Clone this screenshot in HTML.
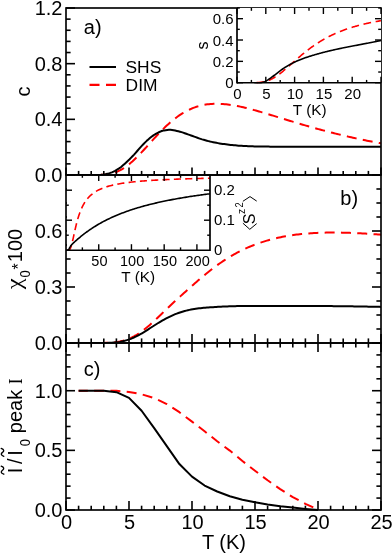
<!DOCTYPE html>
<html><head><meta charset="utf-8"><title>plot</title>
<style>html,body{margin:0;padding:0;background:#fff;}svg{display:block;will-change:transform;}</style>
</head><body>
<svg width="392" height="554" viewBox="0 0 392 554">
<rect width="392" height="554" fill="#fff"/>
<clipPath id="ca"><rect x="66.0" y="8.0" width="315.0" height="167.0"/></clipPath>
<clipPath id="cb"><rect x="66.0" y="175.0" width="315.0" height="168.0"/></clipPath>
<clipPath id="cc"><rect x="66.0" y="343.0" width="315.0" height="167.0"/></clipPath>
<g clip-path="url(#ca)">
<path d="M69.78,175.00 L71.34,175.00 L72.91,175.00 L74.47,175.00 L76.04,175.00 L77.60,175.00 L79.16,175.00 L80.73,175.00 L82.29,175.00 L83.86,175.00 L85.42,175.00 L86.98,175.00 L88.55,175.00 L90.11,175.00 L91.67,175.00 L93.24,174.99 L94.80,174.98 L96.37,174.97 L97.93,174.94 L99.49,174.90 L101.06,174.85 L102.62,174.76 L104.19,174.65 L105.75,174.49 L107.31,174.30 L108.88,174.05 L110.44,173.74 L112.01,173.37 L113.57,172.92 L115.13,172.41 L116.70,171.82 L118.26,171.14 L119.83,170.39 L121.39,169.55 L122.95,168.63 L124.52,167.63 L126.08,166.55 L127.65,165.39 L129.21,164.15 L130.77,162.85 L132.34,161.48 L133.90,160.04 L135.46,158.56 L137.03,157.02 L138.59,155.43 L140.16,153.81 L141.72,152.16 L143.28,150.47 L144.85,148.77 L146.41,147.05 L147.98,145.32 L149.54,143.59 L151.10,141.85 L152.67,140.13 L154.23,138.41 L155.80,136.71 L157.36,135.03 L158.92,133.38 L160.49,131.75 L162.05,130.16 L163.62,128.60 L165.18,127.07 L166.74,125.59 L168.31,124.15 L169.87,122.76 L171.43,121.41 L173.00,120.11 L174.56,118.87 L176.13,117.67 L177.69,116.52 L179.25,115.43 L180.82,114.38 L182.38,113.39 L183.95,112.46 L185.51,111.57 L187.07,110.74 L188.64,109.96 L190.20,109.23 L191.77,108.55 L193.33,107.93 L194.89,107.35 L196.46,106.82 L198.02,106.33 L199.59,105.90 L201.15,105.50 L202.71,105.16 L204.28,104.85 L205.84,104.59 L207.40,104.36 L208.97,104.18 L210.53,104.03 L212.10,103.91 L213.66,103.84 L215.22,103.79 L216.79,103.78 L218.35,103.80 L219.92,103.85 L221.48,103.93 L223.04,104.03 L224.61,104.16 L226.17,104.32 L227.74,104.50 L229.30,104.70 L230.86,104.92 L232.43,105.16 L233.99,105.42 L235.56,105.70 L237.12,106.00 L238.68,106.31 L240.25,106.64 L241.81,106.98 L243.38,107.34 L244.94,107.70 L246.50,108.08 L248.07,108.47 L249.63,108.87 L251.19,109.28 L252.76,109.70 L254.32,110.13 L255.89,110.56 L257.45,111.00 L259.01,111.45 L260.58,111.90 L262.14,112.35 L263.71,112.82 L265.27,113.28 L266.83,113.75 L268.40,114.22 L269.96,114.69 L271.53,115.17 L273.09,115.65 L274.65,116.13 L276.22,116.61 L277.78,117.09 L279.35,117.57 L280.91,118.05 L282.47,118.54 L284.04,119.02 L285.60,119.50 L287.16,119.98 L288.73,120.46 L290.29,120.94 L291.86,121.41 L293.42,121.89 L294.98,122.36 L296.55,122.83 L298.11,123.30 L299.68,123.76 L301.24,124.23 L302.80,124.69 L304.37,125.15 L305.93,125.60 L307.50,126.05 L309.06,126.50 L310.62,126.95 L312.19,127.39 L313.75,127.83 L315.32,128.27 L316.88,128.70 L318.44,129.13 L320.01,129.56 L321.57,129.98 L323.13,130.40 L324.70,130.82 L326.26,131.23 L327.83,131.64 L329.39,132.04 L330.95,132.44 L332.52,132.84 L334.08,133.24 L335.65,133.63 L337.21,134.01 L338.77,134.40 L340.34,134.77 L341.90,135.15 L343.47,135.52 L345.03,135.89 L346.59,136.25 L348.16,136.61 L349.72,136.97 L351.29,137.32 L352.85,137.67 L354.41,138.02 L355.98,138.36 L357.54,138.70 L359.11,139.04 L360.67,139.37 L362.23,139.70 L363.80,140.02 L365.36,140.34 L366.92,140.66 L368.49,140.97 L370.05,141.28 L371.62,141.59 L373.18,141.90 L374.74,142.20 L376.31,142.49 L377.87,142.79 L379.44,143.08 L381.00,143.37" fill="none" stroke="#ff0000" stroke-width="2.0" stroke-linejoin="round" stroke-dasharray="10.0 6.3" stroke-dashoffset="3.40" />
<path d="M66.00,175.00 L67.58,175.00 L69.17,175.00 L70.75,175.00 L72.33,175.00 L73.91,175.00 L75.50,175.00 L77.08,175.00 L78.66,175.00 L80.25,175.00 L81.83,175.00 L83.41,175.00 L84.99,175.00 L86.58,175.00 L88.16,175.00 L89.74,175.00 L91.33,175.00 L92.91,174.99 L94.49,174.98 L96.08,174.96 L97.66,174.94 L99.24,174.91 L100.82,174.85 L102.41,174.70 L103.99,174.45 L105.57,174.13 L107.16,173.76 L108.74,173.37 L110.32,172.91 L111.90,172.32 L113.49,171.60 L115.07,170.79 L116.65,169.91 L118.24,168.98 L119.82,167.92 L121.40,166.68 L122.98,165.32 L124.57,163.91 L126.15,162.48 L127.73,161.02 L129.32,159.49 L130.90,157.90 L132.48,156.27 L134.07,154.59 L135.65,152.82 L137.23,150.98 L138.81,149.14 L140.40,147.36 L141.98,145.67 L143.56,144.01 L145.15,142.39 L146.73,140.85 L148.31,139.41 L149.89,138.09 L151.48,136.81 L153.06,135.61 L154.64,134.52 L156.23,133.59 L157.81,132.77 L159.39,131.99 L160.97,131.30 L162.56,130.75 L164.14,130.39 L165.72,130.16 L167.31,129.97 L168.89,129.84 L170.47,129.80 L172.06,129.92 L173.64,130.18 L175.22,130.52 L176.80,130.91 L178.39,131.30 L179.97,131.70 L181.55,132.16 L183.14,132.67 L184.72,133.21 L186.30,133.78 L187.88,134.35 L189.47,134.91 L191.05,135.45 L192.63,136.01 L194.22,136.59 L195.80,137.18 L197.38,137.76 L198.96,138.33 L200.55,138.87 L202.13,139.37 L203.71,139.83 L205.30,140.28 L206.88,140.70 L208.46,141.11 L210.05,141.51 L211.63,141.87 L213.21,142.22 L214.79,142.54 L216.38,142.84 L217.96,143.12 L219.54,143.39 L221.13,143.65 L222.71,143.89 L224.29,144.11 L225.87,144.32 L227.46,144.52 L229.04,144.71 L230.62,144.89 L232.21,145.06 L233.79,145.22 L235.37,145.37 L236.95,145.50 L238.54,145.63 L240.12,145.73 L241.70,145.83 L243.29,145.92 L244.87,146.01 L246.45,146.09 L248.04,146.16 L249.62,146.22 L251.20,146.28 L252.78,146.33 L254.37,146.38 L255.95,146.43 L257.53,146.48 L259.12,146.52 L260.70,146.56 L262.28,146.58 L263.86,146.60 L265.45,146.61 L267.03,146.62 L268.61,146.62 L270.20,146.63 L271.78,146.64 L273.36,146.65 L274.94,146.65 L276.53,146.66 L278.11,146.66 L279.69,146.67 L281.28,146.67 L282.86,146.68 L284.44,146.68 L286.03,146.69 L287.61,146.69 L289.19,146.69 L290.77,146.69 L292.36,146.70 L293.94,146.70 L295.52,146.70 L297.11,146.70 L298.69,146.70 L300.27,146.70 L301.85,146.70 L303.44,146.70 L305.02,146.70 L306.60,146.70 L308.19,146.70 L309.77,146.70 L311.35,146.70 L312.93,146.70 L314.52,146.70 L316.10,146.70 L317.68,146.70 L319.27,146.70 L320.85,146.70 L322.43,146.70 L324.02,146.70 L325.60,146.70 L327.18,146.70 L328.76,146.70 L330.35,146.70 L331.93,146.70 L333.51,146.70 L335.10,146.70 L336.68,146.70 L338.26,146.70 L339.84,146.70 L341.43,146.70 L343.01,146.70 L344.59,146.70 L346.18,146.70 L347.76,146.70 L349.34,146.70 L350.92,146.70 L352.51,146.70 L354.09,146.70 L355.67,146.70 L357.26,146.70 L358.84,146.70 L360.42,146.70 L362.01,146.70 L363.59,146.70 L365.17,146.70 L366.75,146.70 L368.34,146.70 L369.92,146.70 L371.50,146.70 L373.09,146.70 L374.67,146.70 L376.25,146.70 L377.83,146.70 L379.42,146.70 L381.00,146.70" fill="none" stroke="#000" stroke-width="2.0" stroke-linejoin="round"  />
</g>
<g clip-path="url(#cb)">
<path d="M69.78,343.00 L71.34,343.00 L72.91,343.00 L74.47,343.00 L76.04,343.00 L77.60,343.00 L79.16,343.00 L80.73,343.00 L82.29,343.00 L83.86,343.00 L85.42,343.00 L86.98,343.00 L88.55,343.00 L90.11,343.00 L91.67,343.00 L93.24,343.00 L94.80,343.00 L96.37,342.99 L97.93,342.99 L99.49,342.98 L101.06,342.97 L102.62,342.95 L104.19,342.92 L105.75,342.87 L107.31,342.82 L108.88,342.74 L110.44,342.65 L112.01,342.53 L113.57,342.38 L115.13,342.20 L116.70,341.98 L118.26,341.73 L119.83,341.43 L121.39,341.08 L122.95,340.69 L124.52,340.24 L126.08,339.74 L127.65,339.19 L129.21,338.57 L130.77,337.90 L132.34,337.16 L133.90,336.36 L135.46,335.50 L137.03,334.57 L138.59,333.59 L140.16,332.54 L141.72,331.44 L143.28,330.28 L144.85,329.06 L146.41,327.80 L147.98,326.49 L149.54,325.13 L151.10,323.74 L152.67,322.32 L154.23,320.88 L155.80,319.41 L157.36,317.92 L158.92,316.43 L160.49,314.93 L162.05,313.42 L163.62,311.92 L165.18,310.42 L166.74,308.92 L168.31,307.44 L169.87,305.96 L171.43,304.50 L173.00,303.04 L174.56,301.59 L176.13,300.16 L177.69,298.72 L179.25,297.30 L180.82,295.88 L182.38,294.47 L183.95,293.06 L185.51,291.66 L187.07,290.26 L188.64,288.86 L190.20,287.47 L191.77,286.08 L193.33,284.69 L194.89,283.32 L196.46,281.95 L198.02,280.59 L199.59,279.25 L201.15,277.91 L202.71,276.59 L204.28,275.29 L205.84,274.00 L207.40,272.73 L208.97,271.47 L210.53,270.24 L212.10,269.03 L213.66,267.84 L215.22,266.67 L216.79,265.52 L218.35,264.39 L219.92,263.29 L221.48,262.21 L223.04,261.16 L224.61,260.13 L226.17,259.12 L227.74,258.14 L229.30,257.18 L230.86,256.24 L232.43,255.33 L233.99,254.44 L235.56,253.57 L237.12,252.72 L238.68,251.90 L240.25,251.10 L241.81,250.32 L243.38,249.57 L244.94,248.83 L246.50,248.12 L248.07,247.43 L249.63,246.76 L251.19,246.11 L252.76,245.47 L254.32,244.86 L255.89,244.27 L257.45,243.70 L259.01,243.14 L260.58,242.61 L262.14,242.09 L263.71,241.59 L265.27,241.10 L266.83,240.64 L268.40,240.19 L269.96,239.76 L271.53,239.34 L273.09,238.94 L274.65,238.55 L276.22,238.18 L277.78,237.83 L279.35,237.49 L280.91,237.16 L282.47,236.85 L284.04,236.55 L285.60,236.26 L287.16,235.99 L288.73,235.73 L290.29,235.48 L291.86,235.25 L293.42,235.02 L294.98,234.81 L296.55,234.61 L298.11,234.42 L299.68,234.24 L301.24,234.07 L302.80,233.91 L304.37,233.76 L305.93,233.63 L307.50,233.50 L309.06,233.38 L310.62,233.27 L312.19,233.16 L313.75,233.07 L315.32,232.99 L316.88,232.91 L318.44,232.84 L320.01,232.78 L321.57,232.73 L323.13,232.68 L324.70,232.64 L326.26,232.61 L327.83,232.58 L329.39,232.57 L330.95,232.55 L332.52,232.55 L334.08,232.55 L335.65,232.55 L337.21,232.57 L338.77,232.59 L340.34,232.61 L341.90,232.64 L343.47,232.67 L345.03,232.71 L346.59,232.75 L348.16,232.80 L349.72,232.86 L351.29,232.92 L352.85,232.98 L354.41,233.04 L355.98,233.12 L357.54,233.19 L359.11,233.27 L360.67,233.35 L362.23,233.44 L363.80,233.53 L365.36,233.62 L366.92,233.72 L368.49,233.82 L370.05,233.92 L371.62,234.03 L373.18,234.14 L374.74,234.25 L376.31,234.37 L377.87,234.48 L379.44,234.60 L381.00,234.73" fill="none" stroke="#ff0000" stroke-width="2.0" stroke-linejoin="round" stroke-dasharray="10.0 6.3" stroke-dashoffset="4.33" />
<path d="M66.00,343.00 L67.58,343.00 L69.17,343.00 L70.75,343.00 L72.33,343.00 L73.91,343.00 L75.50,343.00 L77.08,343.00 L78.66,343.00 L80.25,343.00 L81.83,343.00 L83.41,343.00 L84.99,343.00 L86.58,343.00 L88.16,343.00 L89.74,343.00 L91.33,343.00 L92.91,343.00 L94.49,343.00 L96.08,343.00 L97.66,343.00 L99.24,343.00 L100.82,343.00 L102.41,342.99 L103.99,342.96 L105.57,342.92 L107.16,342.88 L108.74,342.82 L110.32,342.76 L111.90,342.68 L113.49,342.60 L115.07,342.51 L116.65,342.39 L118.24,342.19 L119.82,341.92 L121.40,341.59 L122.98,341.21 L124.57,340.80 L126.15,340.35 L127.73,339.89 L129.32,339.41 L130.90,338.85 L132.48,338.20 L134.07,337.47 L135.65,336.69 L137.23,335.86 L138.81,335.01 L140.40,334.14 L141.98,333.27 L143.56,332.37 L145.15,331.40 L146.73,330.39 L148.31,329.34 L149.89,328.29 L151.48,327.25 L153.06,326.24 L154.64,325.25 L156.23,324.26 L157.81,323.27 L159.39,322.29 L160.97,321.33 L162.56,320.40 L164.14,319.51 L165.72,318.67 L167.31,317.86 L168.89,317.05 L170.47,316.28 L172.06,315.54 L173.64,314.84 L175.22,314.19 L176.80,313.59 L178.39,313.02 L179.97,312.48 L181.55,311.96 L183.14,311.47 L184.72,311.02 L186.30,310.60 L187.88,310.22 L189.47,309.88 L191.05,309.58 L192.63,309.29 L194.22,309.02 L195.80,308.78 L197.38,308.56 L198.96,308.35 L200.55,308.17 L202.13,308.01 L203.71,307.86 L205.30,307.72 L206.88,307.59 L208.46,307.48 L210.05,307.36 L211.63,307.26 L213.21,307.15 L214.79,307.05 L216.38,306.95 L217.96,306.86 L219.54,306.77 L221.13,306.68 L222.71,306.60 L224.29,306.52 L225.87,306.45 L227.46,306.38 L229.04,306.33 L230.62,306.28 L232.21,306.24 L233.79,306.19 L235.37,306.15 L236.95,306.10 L238.54,306.06 L240.12,306.02 L241.70,305.99 L243.29,305.96 L244.87,305.94 L246.45,305.92 L248.04,305.91 L249.62,305.90 L251.20,305.90 L252.78,305.90 L254.37,305.90 L255.95,305.90 L257.53,305.90 L259.12,305.90 L260.70,305.90 L262.28,305.90 L263.86,305.90 L265.45,305.90 L267.03,305.90 L268.61,305.90 L270.20,305.90 L271.78,305.90 L273.36,305.90 L274.94,305.90 L276.53,305.90 L278.11,305.90 L279.69,305.90 L281.28,305.90 L282.86,305.90 L284.44,305.90 L286.03,305.90 L287.61,305.90 L289.19,305.90 L290.77,305.90 L292.36,305.90 L293.94,305.90 L295.52,305.90 L297.11,305.90 L298.69,305.90 L300.27,305.90 L301.85,305.90 L303.44,305.90 L305.02,305.91 L306.60,305.91 L308.19,305.92 L309.77,305.93 L311.35,305.94 L312.93,305.95 L314.52,305.96 L316.10,305.97 L317.68,305.99 L319.27,306.00 L320.85,306.02 L322.43,306.03 L324.02,306.04 L325.60,306.06 L327.18,306.07 L328.76,306.09 L330.35,306.10 L331.93,306.12 L333.51,306.13 L335.10,306.15 L336.68,306.17 L338.26,306.18 L339.84,306.20 L341.43,306.22 L343.01,306.24 L344.59,306.26 L346.18,306.28 L347.76,306.31 L349.34,306.33 L350.92,306.35 L352.51,306.37 L354.09,306.40 L355.67,306.42 L357.26,306.45 L358.84,306.48 L360.42,306.50 L362.01,306.53 L363.59,306.56 L365.17,306.59 L366.75,306.62 L368.34,306.65 L369.92,306.68 L371.50,306.71 L373.09,306.74 L374.67,306.77 L376.25,306.80 L377.83,306.83 L379.42,306.87 L381.00,306.90" fill="none" stroke="#000" stroke-width="2.0" stroke-linejoin="round"  />
</g>
<g>
<path d="M78.60,390.71 L91.20,390.71 L103.80,390.71 L116.40,390.83 L129.00,391.91 L141.60,394.29 L154.20,398.11 L166.80,404.07 L179.40,412.19 L192.00,421.61 L204.60,431.27 L217.20,441.29 L229.80,450.60 L242.40,460.97 L255.00,470.75 L267.60,480.30 L280.20,489.12 L292.80,497.12 L305.40,503.80 L315.48,508.33" fill="none" stroke="#ff0000" stroke-width="2.0" stroke-linejoin="round" stroke-dasharray="10.0 6.3" stroke-dashoffset="0.78" />
<path d="M78.60,390.71 L91.20,390.71 L103.80,390.71 L116.40,392.15 L129.00,397.87 L141.60,410.75 L154.20,428.17 L166.80,446.18 L179.40,464.07 L192.00,476.60 L204.60,485.55 L217.20,491.51 L229.80,496.28 L242.40,499.74 L255.00,502.25 L267.60,504.39 L280.20,506.18 L292.80,507.61 L305.40,508.93 L318.00,510.00" fill="none" stroke="#000" stroke-width="2.0" stroke-linejoin="round"  />
</g>
<line x1="66.00" y1="175.00" x2="66.00" y2="167.50" stroke="#000" stroke-width="1.6" />
<line x1="78.60" y1="175.00" x2="78.60" y2="170.90" stroke="#000" stroke-width="1.6" />
<line x1="91.20" y1="175.00" x2="91.20" y2="170.90" stroke="#000" stroke-width="1.6" />
<line x1="103.80" y1="175.00" x2="103.80" y2="170.90" stroke="#000" stroke-width="1.6" />
<line x1="116.40" y1="175.00" x2="116.40" y2="170.90" stroke="#000" stroke-width="1.6" />
<line x1="129.00" y1="175.00" x2="129.00" y2="167.50" stroke="#000" stroke-width="1.6" />
<line x1="141.60" y1="175.00" x2="141.60" y2="170.90" stroke="#000" stroke-width="1.6" />
<line x1="154.20" y1="175.00" x2="154.20" y2="170.90" stroke="#000" stroke-width="1.6" />
<line x1="166.80" y1="175.00" x2="166.80" y2="170.90" stroke="#000" stroke-width="1.6" />
<line x1="179.40" y1="175.00" x2="179.40" y2="170.90" stroke="#000" stroke-width="1.6" />
<line x1="192.00" y1="175.00" x2="192.00" y2="167.50" stroke="#000" stroke-width="1.6" />
<line x1="204.60" y1="175.00" x2="204.60" y2="170.90" stroke="#000" stroke-width="1.6" />
<line x1="217.20" y1="175.00" x2="217.20" y2="170.90" stroke="#000" stroke-width="1.6" />
<line x1="229.80" y1="175.00" x2="229.80" y2="170.90" stroke="#000" stroke-width="1.6" />
<line x1="242.40" y1="175.00" x2="242.40" y2="170.90" stroke="#000" stroke-width="1.6" />
<line x1="255.00" y1="175.00" x2="255.00" y2="167.50" stroke="#000" stroke-width="1.6" />
<line x1="267.60" y1="175.00" x2="267.60" y2="170.90" stroke="#000" stroke-width="1.6" />
<line x1="280.20" y1="175.00" x2="280.20" y2="170.90" stroke="#000" stroke-width="1.6" />
<line x1="292.80" y1="175.00" x2="292.80" y2="170.90" stroke="#000" stroke-width="1.6" />
<line x1="305.40" y1="175.00" x2="305.40" y2="170.90" stroke="#000" stroke-width="1.6" />
<line x1="318.00" y1="175.00" x2="318.00" y2="167.50" stroke="#000" stroke-width="1.6" />
<line x1="330.60" y1="175.00" x2="330.60" y2="170.90" stroke="#000" stroke-width="1.6" />
<line x1="343.20" y1="175.00" x2="343.20" y2="170.90" stroke="#000" stroke-width="1.6" />
<line x1="355.80" y1="175.00" x2="355.80" y2="170.90" stroke="#000" stroke-width="1.6" />
<line x1="368.40" y1="175.00" x2="368.40" y2="170.90" stroke="#000" stroke-width="1.6" />
<line x1="381.00" y1="175.00" x2="381.00" y2="167.50" stroke="#000" stroke-width="1.6" />
<line x1="66.00" y1="343.00" x2="66.00" y2="334.00" stroke="#000" stroke-width="1.6" />
<line x1="78.60" y1="343.00" x2="78.60" y2="338.40" stroke="#000" stroke-width="1.6" />
<line x1="91.20" y1="343.00" x2="91.20" y2="338.40" stroke="#000" stroke-width="1.6" />
<line x1="103.80" y1="343.00" x2="103.80" y2="338.40" stroke="#000" stroke-width="1.6" />
<line x1="116.40" y1="343.00" x2="116.40" y2="338.40" stroke="#000" stroke-width="1.6" />
<line x1="129.00" y1="343.00" x2="129.00" y2="334.00" stroke="#000" stroke-width="1.6" />
<line x1="141.60" y1="343.00" x2="141.60" y2="338.40" stroke="#000" stroke-width="1.6" />
<line x1="154.20" y1="343.00" x2="154.20" y2="338.40" stroke="#000" stroke-width="1.6" />
<line x1="166.80" y1="343.00" x2="166.80" y2="338.40" stroke="#000" stroke-width="1.6" />
<line x1="179.40" y1="343.00" x2="179.40" y2="338.40" stroke="#000" stroke-width="1.6" />
<line x1="192.00" y1="343.00" x2="192.00" y2="334.00" stroke="#000" stroke-width="1.6" />
<line x1="204.60" y1="343.00" x2="204.60" y2="338.40" stroke="#000" stroke-width="1.6" />
<line x1="217.20" y1="343.00" x2="217.20" y2="338.40" stroke="#000" stroke-width="1.6" />
<line x1="229.80" y1="343.00" x2="229.80" y2="338.40" stroke="#000" stroke-width="1.6" />
<line x1="242.40" y1="343.00" x2="242.40" y2="338.40" stroke="#000" stroke-width="1.6" />
<line x1="255.00" y1="343.00" x2="255.00" y2="334.00" stroke="#000" stroke-width="1.6" />
<line x1="267.60" y1="343.00" x2="267.60" y2="338.40" stroke="#000" stroke-width="1.6" />
<line x1="280.20" y1="343.00" x2="280.20" y2="338.40" stroke="#000" stroke-width="1.6" />
<line x1="292.80" y1="343.00" x2="292.80" y2="338.40" stroke="#000" stroke-width="1.6" />
<line x1="305.40" y1="343.00" x2="305.40" y2="338.40" stroke="#000" stroke-width="1.6" />
<line x1="318.00" y1="343.00" x2="318.00" y2="334.00" stroke="#000" stroke-width="1.6" />
<line x1="330.60" y1="343.00" x2="330.60" y2="338.40" stroke="#000" stroke-width="1.6" />
<line x1="343.20" y1="343.00" x2="343.20" y2="338.40" stroke="#000" stroke-width="1.6" />
<line x1="355.80" y1="343.00" x2="355.80" y2="338.40" stroke="#000" stroke-width="1.6" />
<line x1="368.40" y1="343.00" x2="368.40" y2="338.40" stroke="#000" stroke-width="1.6" />
<line x1="381.00" y1="343.00" x2="381.00" y2="334.00" stroke="#000" stroke-width="1.6" />
<line x1="66.00" y1="343.00" x2="66.00" y2="352.00" stroke="#000" stroke-width="1.6" />
<line x1="78.60" y1="343.00" x2="78.60" y2="347.60" stroke="#000" stroke-width="1.6" />
<line x1="91.20" y1="343.00" x2="91.20" y2="347.60" stroke="#000" stroke-width="1.6" />
<line x1="103.80" y1="343.00" x2="103.80" y2="347.60" stroke="#000" stroke-width="1.6" />
<line x1="116.40" y1="343.00" x2="116.40" y2="347.60" stroke="#000" stroke-width="1.6" />
<line x1="129.00" y1="343.00" x2="129.00" y2="352.00" stroke="#000" stroke-width="1.6" />
<line x1="141.60" y1="343.00" x2="141.60" y2="347.60" stroke="#000" stroke-width="1.6" />
<line x1="154.20" y1="343.00" x2="154.20" y2="347.60" stroke="#000" stroke-width="1.6" />
<line x1="166.80" y1="343.00" x2="166.80" y2="347.60" stroke="#000" stroke-width="1.6" />
<line x1="179.40" y1="343.00" x2="179.40" y2="347.60" stroke="#000" stroke-width="1.6" />
<line x1="192.00" y1="343.00" x2="192.00" y2="352.00" stroke="#000" stroke-width="1.6" />
<line x1="204.60" y1="343.00" x2="204.60" y2="347.60" stroke="#000" stroke-width="1.6" />
<line x1="217.20" y1="343.00" x2="217.20" y2="347.60" stroke="#000" stroke-width="1.6" />
<line x1="229.80" y1="343.00" x2="229.80" y2="347.60" stroke="#000" stroke-width="1.6" />
<line x1="242.40" y1="343.00" x2="242.40" y2="347.60" stroke="#000" stroke-width="1.6" />
<line x1="255.00" y1="343.00" x2="255.00" y2="352.00" stroke="#000" stroke-width="1.6" />
<line x1="267.60" y1="343.00" x2="267.60" y2="347.60" stroke="#000" stroke-width="1.6" />
<line x1="280.20" y1="343.00" x2="280.20" y2="347.60" stroke="#000" stroke-width="1.6" />
<line x1="292.80" y1="343.00" x2="292.80" y2="347.60" stroke="#000" stroke-width="1.6" />
<line x1="305.40" y1="343.00" x2="305.40" y2="347.60" stroke="#000" stroke-width="1.6" />
<line x1="318.00" y1="343.00" x2="318.00" y2="352.00" stroke="#000" stroke-width="1.6" />
<line x1="330.60" y1="343.00" x2="330.60" y2="347.60" stroke="#000" stroke-width="1.6" />
<line x1="343.20" y1="343.00" x2="343.20" y2="347.60" stroke="#000" stroke-width="1.6" />
<line x1="355.80" y1="343.00" x2="355.80" y2="347.60" stroke="#000" stroke-width="1.6" />
<line x1="368.40" y1="343.00" x2="368.40" y2="347.60" stroke="#000" stroke-width="1.6" />
<line x1="381.00" y1="343.00" x2="381.00" y2="352.00" stroke="#000" stroke-width="1.6" />
<line x1="66.00" y1="510.00" x2="66.00" y2="501.00" stroke="#000" stroke-width="1.6" />
<line x1="78.60" y1="510.00" x2="78.60" y2="505.70" stroke="#000" stroke-width="1.6" />
<line x1="91.20" y1="510.00" x2="91.20" y2="505.70" stroke="#000" stroke-width="1.6" />
<line x1="103.80" y1="510.00" x2="103.80" y2="505.70" stroke="#000" stroke-width="1.6" />
<line x1="116.40" y1="510.00" x2="116.40" y2="505.70" stroke="#000" stroke-width="1.6" />
<line x1="129.00" y1="510.00" x2="129.00" y2="501.00" stroke="#000" stroke-width="1.6" />
<line x1="141.60" y1="510.00" x2="141.60" y2="505.70" stroke="#000" stroke-width="1.6" />
<line x1="154.20" y1="510.00" x2="154.20" y2="505.70" stroke="#000" stroke-width="1.6" />
<line x1="166.80" y1="510.00" x2="166.80" y2="505.70" stroke="#000" stroke-width="1.6" />
<line x1="179.40" y1="510.00" x2="179.40" y2="505.70" stroke="#000" stroke-width="1.6" />
<line x1="192.00" y1="510.00" x2="192.00" y2="501.00" stroke="#000" stroke-width="1.6" />
<line x1="204.60" y1="510.00" x2="204.60" y2="505.70" stroke="#000" stroke-width="1.6" />
<line x1="217.20" y1="510.00" x2="217.20" y2="505.70" stroke="#000" stroke-width="1.6" />
<line x1="229.80" y1="510.00" x2="229.80" y2="505.70" stroke="#000" stroke-width="1.6" />
<line x1="242.40" y1="510.00" x2="242.40" y2="505.70" stroke="#000" stroke-width="1.6" />
<line x1="255.00" y1="510.00" x2="255.00" y2="501.00" stroke="#000" stroke-width="1.6" />
<line x1="267.60" y1="510.00" x2="267.60" y2="505.70" stroke="#000" stroke-width="1.6" />
<line x1="280.20" y1="510.00" x2="280.20" y2="505.70" stroke="#000" stroke-width="1.6" />
<line x1="292.80" y1="510.00" x2="292.80" y2="505.70" stroke="#000" stroke-width="1.6" />
<line x1="305.40" y1="510.00" x2="305.40" y2="505.70" stroke="#000" stroke-width="1.6" />
<line x1="318.00" y1="510.00" x2="318.00" y2="501.00" stroke="#000" stroke-width="1.6" />
<line x1="330.60" y1="510.00" x2="330.60" y2="505.70" stroke="#000" stroke-width="1.6" />
<line x1="343.20" y1="510.00" x2="343.20" y2="505.70" stroke="#000" stroke-width="1.6" />
<line x1="355.80" y1="510.00" x2="355.80" y2="505.70" stroke="#000" stroke-width="1.6" />
<line x1="368.40" y1="510.00" x2="368.40" y2="505.70" stroke="#000" stroke-width="1.6" />
<line x1="381.00" y1="510.00" x2="381.00" y2="501.00" stroke="#000" stroke-width="1.6" />
<line x1="66.00" y1="175.00" x2="75.00" y2="175.00" stroke="#000" stroke-width="1.6" />
<line x1="66.00" y1="119.33" x2="75.00" y2="119.33" stroke="#000" stroke-width="1.6" />
<line x1="66.00" y1="63.67" x2="75.00" y2="63.67" stroke="#000" stroke-width="1.6" />
<line x1="66.00" y1="8.00" x2="75.00" y2="8.00" stroke="#000" stroke-width="1.6" />
<line x1="66.00" y1="163.87" x2="70.60" y2="163.87" stroke="#000" stroke-width="1.6" />
<line x1="66.00" y1="152.73" x2="70.60" y2="152.73" stroke="#000" stroke-width="1.6" />
<line x1="66.00" y1="141.60" x2="70.60" y2="141.60" stroke="#000" stroke-width="1.6" />
<line x1="66.00" y1="130.47" x2="70.60" y2="130.47" stroke="#000" stroke-width="1.6" />
<line x1="66.00" y1="108.20" x2="70.60" y2="108.20" stroke="#000" stroke-width="1.6" />
<line x1="66.00" y1="97.07" x2="70.60" y2="97.07" stroke="#000" stroke-width="1.6" />
<line x1="66.00" y1="85.93" x2="70.60" y2="85.93" stroke="#000" stroke-width="1.6" />
<line x1="66.00" y1="74.80" x2="70.60" y2="74.80" stroke="#000" stroke-width="1.6" />
<line x1="66.00" y1="52.53" x2="70.60" y2="52.53" stroke="#000" stroke-width="1.6" />
<line x1="66.00" y1="41.40" x2="70.60" y2="41.40" stroke="#000" stroke-width="1.6" />
<line x1="66.00" y1="30.27" x2="70.60" y2="30.27" stroke="#000" stroke-width="1.6" />
<line x1="66.00" y1="19.13" x2="70.60" y2="19.13" stroke="#000" stroke-width="1.6" />
<line x1="66.00" y1="343.00" x2="75.00" y2="343.00" stroke="#000" stroke-width="1.6" />
<line x1="381.00" y1="343.00" x2="372.00" y2="343.00" stroke="#000" stroke-width="1.6" />
<line x1="66.00" y1="287.00" x2="75.00" y2="287.00" stroke="#000" stroke-width="1.6" />
<line x1="381.00" y1="287.00" x2="372.00" y2="287.00" stroke="#000" stroke-width="1.6" />
<line x1="66.00" y1="231.00" x2="75.00" y2="231.00" stroke="#000" stroke-width="1.6" />
<line x1="381.00" y1="231.00" x2="372.00" y2="231.00" stroke="#000" stroke-width="1.6" />
<line x1="66.00" y1="175.00" x2="75.00" y2="175.00" stroke="#000" stroke-width="1.6" />
<line x1="381.00" y1="175.00" x2="372.00" y2="175.00" stroke="#000" stroke-width="1.6" />
<line x1="66.00" y1="329.00" x2="70.60" y2="329.00" stroke="#000" stroke-width="1.6" />
<line x1="381.00" y1="329.00" x2="376.40" y2="329.00" stroke="#000" stroke-width="1.6" />
<line x1="66.00" y1="315.00" x2="70.60" y2="315.00" stroke="#000" stroke-width="1.6" />
<line x1="381.00" y1="315.00" x2="376.40" y2="315.00" stroke="#000" stroke-width="1.6" />
<line x1="66.00" y1="301.00" x2="70.60" y2="301.00" stroke="#000" stroke-width="1.6" />
<line x1="381.00" y1="301.00" x2="376.40" y2="301.00" stroke="#000" stroke-width="1.6" />
<line x1="66.00" y1="273.00" x2="70.60" y2="273.00" stroke="#000" stroke-width="1.6" />
<line x1="381.00" y1="273.00" x2="376.40" y2="273.00" stroke="#000" stroke-width="1.6" />
<line x1="66.00" y1="259.00" x2="70.60" y2="259.00" stroke="#000" stroke-width="1.6" />
<line x1="381.00" y1="259.00" x2="376.40" y2="259.00" stroke="#000" stroke-width="1.6" />
<line x1="66.00" y1="245.00" x2="70.60" y2="245.00" stroke="#000" stroke-width="1.6" />
<line x1="381.00" y1="245.00" x2="376.40" y2="245.00" stroke="#000" stroke-width="1.6" />
<line x1="66.00" y1="217.00" x2="70.60" y2="217.00" stroke="#000" stroke-width="1.6" />
<line x1="381.00" y1="217.00" x2="376.40" y2="217.00" stroke="#000" stroke-width="1.6" />
<line x1="66.00" y1="203.00" x2="70.60" y2="203.00" stroke="#000" stroke-width="1.6" />
<line x1="381.00" y1="203.00" x2="376.40" y2="203.00" stroke="#000" stroke-width="1.6" />
<line x1="66.00" y1="189.00" x2="70.60" y2="189.00" stroke="#000" stroke-width="1.6" />
<line x1="381.00" y1="189.00" x2="376.40" y2="189.00" stroke="#000" stroke-width="1.6" />
<line x1="66.00" y1="510.00" x2="75.00" y2="510.00" stroke="#000" stroke-width="1.6" />
<line x1="381.00" y1="510.00" x2="372.00" y2="510.00" stroke="#000" stroke-width="1.6" />
<line x1="66.00" y1="450.36" x2="75.00" y2="450.36" stroke="#000" stroke-width="1.6" />
<line x1="381.00" y1="450.36" x2="372.00" y2="450.36" stroke="#000" stroke-width="1.6" />
<line x1="66.00" y1="390.71" x2="75.00" y2="390.71" stroke="#000" stroke-width="1.6" />
<line x1="381.00" y1="390.71" x2="372.00" y2="390.71" stroke="#000" stroke-width="1.6" />
<line x1="66.00" y1="498.07" x2="70.60" y2="498.07" stroke="#000" stroke-width="1.6" />
<line x1="381.00" y1="498.07" x2="376.40" y2="498.07" stroke="#000" stroke-width="1.6" />
<line x1="66.00" y1="486.14" x2="70.60" y2="486.14" stroke="#000" stroke-width="1.6" />
<line x1="381.00" y1="486.14" x2="376.40" y2="486.14" stroke="#000" stroke-width="1.6" />
<line x1="66.00" y1="474.21" x2="70.60" y2="474.21" stroke="#000" stroke-width="1.6" />
<line x1="381.00" y1="474.21" x2="376.40" y2="474.21" stroke="#000" stroke-width="1.6" />
<line x1="66.00" y1="462.29" x2="70.60" y2="462.29" stroke="#000" stroke-width="1.6" />
<line x1="381.00" y1="462.29" x2="376.40" y2="462.29" stroke="#000" stroke-width="1.6" />
<line x1="66.00" y1="438.43" x2="70.60" y2="438.43" stroke="#000" stroke-width="1.6" />
<line x1="381.00" y1="438.43" x2="376.40" y2="438.43" stroke="#000" stroke-width="1.6" />
<line x1="66.00" y1="426.50" x2="70.60" y2="426.50" stroke="#000" stroke-width="1.6" />
<line x1="381.00" y1="426.50" x2="376.40" y2="426.50" stroke="#000" stroke-width="1.6" />
<line x1="66.00" y1="414.57" x2="70.60" y2="414.57" stroke="#000" stroke-width="1.6" />
<line x1="381.00" y1="414.57" x2="376.40" y2="414.57" stroke="#000" stroke-width="1.6" />
<line x1="66.00" y1="402.64" x2="70.60" y2="402.64" stroke="#000" stroke-width="1.6" />
<line x1="381.00" y1="402.64" x2="376.40" y2="402.64" stroke="#000" stroke-width="1.6" />
<line x1="66.00" y1="378.79" x2="70.60" y2="378.79" stroke="#000" stroke-width="1.6" />
<line x1="381.00" y1="378.79" x2="376.40" y2="378.79" stroke="#000" stroke-width="1.6" />
<line x1="66.00" y1="366.86" x2="70.60" y2="366.86" stroke="#000" stroke-width="1.6" />
<line x1="381.00" y1="366.86" x2="376.40" y2="366.86" stroke="#000" stroke-width="1.6" />
<line x1="66.00" y1="354.93" x2="70.60" y2="354.93" stroke="#000" stroke-width="1.6" />
<line x1="381.00" y1="354.93" x2="376.40" y2="354.93" stroke="#000" stroke-width="1.6" />
<line x1="66.00" y1="343.00" x2="70.60" y2="343.00" stroke="#000" stroke-width="1.6" />
<line x1="381.00" y1="343.00" x2="376.40" y2="343.00" stroke="#000" stroke-width="1.6" />
<rect x="66.0" y="8.0" width="315.0" height="167.0" fill="none" stroke="#000" stroke-width="1.65"/>
<rect x="66.0" y="175.0" width="315.0" height="168.0" fill="none" stroke="#000" stroke-width="1.65"/>
<rect x="66.0" y="343.0" width="315.0" height="167.0" fill="none" stroke="#000" stroke-width="1.65"/>
<text x="62.50" y="181.86" font-size="20" text-anchor="end" style="font-family:'Liberation Sans',sans-serif" fill="#000" >0.0</text>
<text x="62.50" y="126.19" font-size="20" text-anchor="end" style="font-family:'Liberation Sans',sans-serif" fill="#000" >0.4</text>
<text x="62.50" y="70.53" font-size="20" text-anchor="end" style="font-family:'Liberation Sans',sans-serif" fill="#000" >0.8</text>
<text x="62.50" y="14.86" font-size="20" text-anchor="end" style="font-family:'Liberation Sans',sans-serif" fill="#000" >1.2</text>
<text x="62.50" y="349.86" font-size="20" text-anchor="end" style="font-family:'Liberation Sans',sans-serif" fill="#000" >0.0</text>
<text x="62.50" y="293.86" font-size="20" text-anchor="end" style="font-family:'Liberation Sans',sans-serif" fill="#000" >0.3</text>
<text x="62.50" y="237.86" font-size="20" text-anchor="end" style="font-family:'Liberation Sans',sans-serif" fill="#000" >0.6</text>
<text x="62.50" y="516.86" font-size="20" text-anchor="end" style="font-family:'Liberation Sans',sans-serif" fill="#000" >0.0</text>
<text x="62.50" y="457.22" font-size="20" text-anchor="end" style="font-family:'Liberation Sans',sans-serif" fill="#000" >0.5</text>
<text x="62.50" y="397.57" font-size="20" text-anchor="end" style="font-family:'Liberation Sans',sans-serif" fill="#000" >1.0</text>
<text x="66.50" y="528.80" font-size="20" text-anchor="middle" style="font-family:'Liberation Sans',sans-serif" fill="#000" >0</text>
<text x="129.50" y="528.80" font-size="20" text-anchor="middle" style="font-family:'Liberation Sans',sans-serif" fill="#000" >5</text>
<text x="192.50" y="528.80" font-size="20" text-anchor="middle" style="font-family:'Liberation Sans',sans-serif" fill="#000" >10</text>
<text x="255.50" y="528.80" font-size="20" text-anchor="middle" style="font-family:'Liberation Sans',sans-serif" fill="#000" >15</text>
<text x="318.50" y="528.80" font-size="20" text-anchor="middle" style="font-family:'Liberation Sans',sans-serif" fill="#000" >20</text>
<text x="381.50" y="528.80" font-size="20" text-anchor="middle" style="font-family:'Liberation Sans',sans-serif" fill="#000" >25</text>
<text x="224.00" y="549.30" font-size="20" text-anchor="middle" style="font-family:'Liberation Sans',sans-serif" fill="#000" >T (K)</text>
<text x="83.80" y="33.60" font-size="20" text-anchor="start" style="font-family:'Liberation Sans',sans-serif" fill="#000" >a)</text>
<text x="340.30" y="205.00" font-size="20" text-anchor="start" style="font-family:'Liberation Sans',sans-serif" fill="#000" >b)</text>
<text x="83.70" y="376.00" font-size="20" text-anchor="start" style="font-family:'Liberation Sans',sans-serif" fill="#000" >c)</text>
<line x1="89.50" y1="67.00" x2="116.00" y2="67.00" stroke="#000" stroke-width="2" />
<line x1="89.50" y1="84.90" x2="116.00" y2="84.90" stroke="#ff0000" stroke-width="2.1" stroke-dasharray="10 6.5"/>
<text x="125.50" y="73.10" font-size="17.4" text-anchor="start" style="font-family:'Liberation Sans',sans-serif" fill="#000" >SHS</text>
<text x="125.60" y="91.20" font-size="17.4" text-anchor="start" style="font-family:'Liberation Sans',sans-serif" fill="#000" >DIM</text>
<text transform="translate(30.00,91.50) rotate(-90) scale(1,1)" font-size="20" text-anchor="middle" style="font-family:'Liberation Sans',sans-serif" fill="#000" >c</text>
<text transform="translate(20.80,289.20) rotate(-90) scale(1.17,1)" font-size="21" text-anchor="start" style="font-family:'Liberation Serif',serif" fill="#000" >χ</text>
<text transform="translate(29.80,277.50) rotate(-90) scale(1,1.18)" font-size="13" text-anchor="start" style="font-family:'Liberation Sans',sans-serif" fill="#000" >0</text>
<text transform="translate(24.46,269.40) rotate(-90) scale(1,1)" font-size="16" text-anchor="start" style="font-family:'Liberation Sans',sans-serif" fill="#000" >*</text>
<text transform="translate(22.30,262.20) rotate(-90) scale(1,1)" font-size="20" text-anchor="start" style="font-family:'Liberation Sans',sans-serif" fill="#000" >100</text>
<text transform="translate(21.50,473.20) rotate(-90) scale(1,1)" font-size="20" text-anchor="start" style="font-family:'Liberation Sans',sans-serif" fill="#000" >I</text>
<text transform="translate(21.50,464.00) rotate(-90) scale(1,1)" font-size="20" text-anchor="start" style="font-family:'Liberation Sans',sans-serif" fill="#000" >/</text>
<text transform="translate(21.50,455.80) rotate(-90) scale(1,1)" font-size="20" text-anchor="start" style="font-family:'Liberation Sans',sans-serif" fill="#000" >I</text>
<text transform="translate(30.00,446.20) rotate(-90) scale(1,1.18)" font-size="13" text-anchor="start" style="font-family:'Liberation Sans',sans-serif" fill="#000" >0</text>
<text transform="translate(22.00,433.20) rotate(-90) scale(1,1)" font-size="20" text-anchor="start" style="font-family:'Liberation Sans',sans-serif" fill="#000" >peak</text>
<text transform="translate(22.20,384.30) rotate(-90) scale(0.9,1)" font-size="19.5" text-anchor="start" style="font-family:'Liberation Serif',serif" fill="#000" >I</text>
<path transform="translate(2.5,470.2) rotate(-90)" d="M-4,1.3 C-2.9,-1.9 -1.3,-1.7 0,0 S2.9,1.9 4,-1.3" fill="none" stroke="#000" stroke-width="1.35" stroke-linecap="round"/>
<path transform="translate(2.5,452.4) rotate(-90)" d="M-4,1.3 C-2.9,-1.9 -1.3,-1.7 0,0 S2.9,1.9 4,-1.3" fill="none" stroke="#000" stroke-width="1.35" stroke-linecap="round"/>
<rect x="237.0" y="8.0" width="144.0" height="74.7" fill="#fff"/>
<clipPath id="cia"><rect x="237.0" y="8.0" width="144.0" height="75.7"/></clipPath>
<g clip-path="url(#cia)">
<path d="M254.28,82.68 L254.92,82.67 L255.55,82.65 L256.19,82.63 L256.83,82.61 L257.46,82.58 L258.10,82.55 L258.74,82.50 L259.37,82.45 L260.01,82.39 L260.65,82.32 L261.28,82.24 L261.92,82.15 L262.56,82.05 L263.19,81.93 L263.83,81.80 L264.47,81.66 L265.11,81.50 L265.74,81.33 L266.38,81.14 L267.02,80.94 L267.65,80.72 L268.29,80.49 L268.93,80.24 L269.56,79.97 L270.20,79.69 L270.84,79.40 L271.47,79.09 L272.11,78.76 L272.75,78.42 L273.38,78.06 L274.02,77.69 L274.66,77.31 L275.29,76.91 L275.93,76.50 L276.57,76.08 L277.20,75.64 L277.84,75.20 L278.48,74.74 L279.11,74.27 L279.75,73.80 L280.39,73.31 L281.02,72.81 L281.66,72.31 L282.30,71.80 L282.94,71.28 L283.57,70.75 L284.21,70.22 L284.85,69.68 L285.48,69.14 L286.12,68.59 L286.76,68.04 L287.39,67.49 L288.03,66.93 L288.67,66.37 L289.30,65.81 L289.94,65.24 L290.58,64.68 L291.21,64.11 L291.85,63.54 L292.49,62.98 L293.12,62.41 L293.76,61.84 L294.40,61.28 L295.03,60.71 L295.67,60.15 L296.31,59.59 L296.94,59.03 L297.58,58.48 L298.22,57.92 L298.85,57.37 L299.49,56.83 L300.13,56.28 L300.77,55.74 L301.40,55.20 L302.04,54.67 L302.68,54.14 L303.31,53.62 L303.95,53.10 L304.59,52.58 L305.22,52.07 L305.86,51.56 L306.50,51.06 L307.13,50.56 L307.77,50.07 L308.41,49.58 L309.04,49.10 L309.68,48.62 L310.32,48.14 L310.95,47.68 L311.59,47.21 L312.23,46.76 L312.86,46.30 L313.50,45.86 L314.14,45.41 L314.77,44.98 L315.41,44.55 L316.05,44.12 L316.68,43.70 L317.32,43.28 L317.96,42.87 L318.60,42.46 L319.23,42.06 L319.87,41.67 L320.51,41.28 L321.14,40.89 L321.78,40.51 L322.42,40.13 L323.05,39.76 L323.69,39.40 L324.33,39.04 L324.96,38.68 L325.60,38.33 L326.24,37.98 L326.87,37.64 L327.51,37.30 L328.15,36.97 L328.78,36.64 L329.42,36.32 L330.06,36.00 L330.69,35.69 L331.33,35.37 L331.97,35.07 L332.60,34.77 L333.24,34.47 L333.88,34.17 L334.51,33.89 L335.15,33.60 L335.79,33.32 L336.43,33.04 L337.06,32.77 L337.70,32.50 L338.34,32.23 L338.97,31.97 L339.61,31.71 L340.25,31.45 L340.88,31.20 L341.52,30.95 L342.16,30.71 L342.79,30.47 L343.43,30.23 L344.07,30.00 L344.70,29.76 L345.34,29.54 L345.98,29.31 L346.61,29.09 L347.25,28.87 L347.89,28.65 L348.52,28.44 L349.16,28.23 L349.80,28.03 L350.43,27.82 L351.07,27.62 L351.71,27.42 L352.34,27.23 L352.98,27.03 L353.62,26.84 L354.26,26.66 L354.89,26.47 L355.53,26.29 L356.17,26.11 L356.80,25.93 L357.44,25.75 L358.08,25.58 L358.71,25.41 L359.35,25.24 L359.99,25.08 L360.62,24.91 L361.26,24.75 L361.90,24.59 L362.53,24.43 L363.17,24.28 L363.81,24.13 L364.44,23.98 L365.08,23.83 L365.72,23.68 L366.35,23.53 L366.99,23.39 L367.63,23.25 L368.26,23.11 L368.90,22.97 L369.54,22.84 L370.17,22.70 L370.81,22.57 L371.45,22.44 L372.09,22.31 L372.72,22.18 L373.36,22.06 L374.00,21.93 L374.63,21.81 L375.27,21.69 L375.91,21.57 L376.54,21.45 L377.18,21.34 L377.82,21.22 L378.45,21.11 L379.09,20.99 L379.73,20.88 L380.36,20.77 L381.00,20.67" fill="none" stroke="#ff0000" stroke-width="1.6" stroke-linejoin="round" stroke-dasharray="7.7 4.7" stroke-dashoffset="10.11" />
<path d="M254.28,82.70 L254.92,82.70 L255.55,82.70 L256.19,82.70 L256.83,82.70 L257.46,82.70 L258.10,82.70 L258.74,82.70 L259.37,82.70 L260.01,82.70 L260.65,82.70 L261.28,82.67 L261.92,82.53 L262.56,82.35 L263.19,82.14 L263.83,81.91 L264.47,81.65 L265.11,81.37 L265.74,81.06 L266.38,80.72 L267.02,80.37 L267.65,80.00 L268.29,79.61 L268.93,79.20 L269.56,78.78 L270.20,78.35 L270.84,77.90 L271.47,77.44 L272.11,76.97 L272.75,76.49 L273.38,76.00 L274.02,75.51 L274.66,75.02 L275.29,74.52 L275.93,74.02 L276.57,73.52 L277.20,73.02 L277.84,72.52 L278.48,72.03 L279.11,71.54 L279.75,71.06 L280.39,70.58 L281.02,70.12 L281.66,69.66 L282.30,69.22 L282.94,68.78 L283.57,68.35 L284.21,67.93 L284.85,67.52 L285.48,67.11 L286.12,66.72 L286.76,66.33 L287.39,65.95 L288.03,65.58 L288.67,65.21 L289.30,64.85 L289.94,64.50 L290.58,64.16 L291.21,63.82 L291.85,63.49 L292.49,63.17 L293.12,62.85 L293.76,62.54 L294.40,62.23 L295.03,61.93 L295.67,61.64 L296.31,61.35 L296.94,61.07 L297.58,60.79 L298.22,60.52 L298.85,60.25 L299.49,59.99 L300.13,59.73 L300.77,59.48 L301.40,59.23 L302.04,58.99 L302.68,58.75 L303.31,58.51 L303.95,58.28 L304.59,58.05 L305.22,57.82 L305.86,57.60 L306.50,57.38 L307.13,57.17 L307.77,56.96 L308.41,56.75 L309.04,56.54 L309.68,56.33 L310.32,56.13 L310.95,55.93 L311.59,55.73 L312.23,55.54 L312.86,55.34 L313.50,55.15 L314.14,54.96 L314.77,54.77 L315.41,54.58 L316.05,54.40 L316.68,54.22 L317.32,54.03 L317.96,53.86 L318.60,53.68 L319.23,53.50 L319.87,53.33 L320.51,53.15 L321.14,52.98 L321.78,52.81 L322.42,52.65 L323.05,52.48 L323.69,52.32 L324.33,52.15 L324.96,51.99 L325.60,51.83 L326.24,51.67 L326.87,51.52 L327.51,51.36 L328.15,51.20 L328.78,51.05 L329.42,50.90 L330.06,50.75 L330.69,50.60 L331.33,50.45 L331.97,50.30 L332.60,50.16 L333.24,50.01 L333.88,49.87 L334.51,49.73 L335.15,49.59 L335.79,49.45 L336.43,49.31 L337.06,49.17 L337.70,49.03 L338.34,48.89 L338.97,48.76 L339.61,48.62 L340.25,48.49 L340.88,48.36 L341.52,48.22 L342.16,48.09 L342.79,47.96 L343.43,47.83 L344.07,47.70 L344.70,47.57 L345.34,47.45 L345.98,47.32 L346.61,47.19 L347.25,47.07 L347.89,46.94 L348.52,46.81 L349.16,46.69 L349.80,46.57 L350.43,46.44 L351.07,46.32 L351.71,46.20 L352.34,46.07 L352.98,45.95 L353.62,45.83 L354.26,45.71 L354.89,45.58 L355.53,45.46 L356.17,45.34 L356.80,45.22 L357.44,45.10 L358.08,44.98 L358.71,44.86 L359.35,44.74 L359.99,44.62 L360.62,44.50 L361.26,44.38 L361.90,44.26 L362.53,44.14 L363.17,44.02 L363.81,43.89 L364.44,43.77 L365.08,43.65 L365.72,43.53 L366.35,43.41 L366.99,43.29 L367.63,43.17 L368.26,43.04 L368.90,42.92 L369.54,42.80 L370.17,42.67 L370.81,42.55 L371.45,42.43 L372.09,42.30 L372.72,42.18 L373.36,42.05 L374.00,41.92 L374.63,41.80 L375.27,41.67 L375.91,41.54 L376.54,41.41 L377.18,41.28 L377.82,41.15 L378.45,41.02 L379.09,40.89 L379.73,40.76 L380.36,40.63 L381.00,40.49" fill="none" stroke="#000" stroke-width="1.6" stroke-linejoin="round"  />
</g>
<line x1="237.00" y1="82.70" x2="237.00" y2="76.70" stroke="#000" stroke-width="1.4" />
<line x1="237.00" y1="8.00" x2="237.00" y2="14.00" stroke="#000" stroke-width="1.4" />
<line x1="251.40" y1="82.70" x2="251.40" y2="79.90" stroke="#000" stroke-width="1.4" />
<line x1="251.40" y1="8.00" x2="251.40" y2="10.80" stroke="#000" stroke-width="1.4" />
<line x1="265.80" y1="82.70" x2="265.80" y2="76.70" stroke="#000" stroke-width="1.4" />
<line x1="265.80" y1="8.00" x2="265.80" y2="14.00" stroke="#000" stroke-width="1.4" />
<line x1="280.20" y1="82.70" x2="280.20" y2="79.90" stroke="#000" stroke-width="1.4" />
<line x1="280.20" y1="8.00" x2="280.20" y2="10.80" stroke="#000" stroke-width="1.4" />
<line x1="294.60" y1="82.70" x2="294.60" y2="76.70" stroke="#000" stroke-width="1.4" />
<line x1="294.60" y1="8.00" x2="294.60" y2="14.00" stroke="#000" stroke-width="1.4" />
<line x1="309.00" y1="82.70" x2="309.00" y2="79.90" stroke="#000" stroke-width="1.4" />
<line x1="309.00" y1="8.00" x2="309.00" y2="10.80" stroke="#000" stroke-width="1.4" />
<line x1="323.40" y1="82.70" x2="323.40" y2="76.70" stroke="#000" stroke-width="1.4" />
<line x1="323.40" y1="8.00" x2="323.40" y2="14.00" stroke="#000" stroke-width="1.4" />
<line x1="337.80" y1="82.70" x2="337.80" y2="79.90" stroke="#000" stroke-width="1.4" />
<line x1="337.80" y1="8.00" x2="337.80" y2="10.80" stroke="#000" stroke-width="1.4" />
<line x1="352.20" y1="82.70" x2="352.20" y2="76.70" stroke="#000" stroke-width="1.4" />
<line x1="352.20" y1="8.00" x2="352.20" y2="14.00" stroke="#000" stroke-width="1.4" />
<line x1="366.60" y1="82.70" x2="366.60" y2="79.90" stroke="#000" stroke-width="1.4" />
<line x1="366.60" y1="8.00" x2="366.60" y2="10.80" stroke="#000" stroke-width="1.4" />
<line x1="381.00" y1="82.70" x2="381.00" y2="76.70" stroke="#000" stroke-width="1.4" />
<line x1="381.00" y1="8.00" x2="381.00" y2="14.00" stroke="#000" stroke-width="1.4" />
<line x1="237.00" y1="82.70" x2="243.00" y2="82.70" stroke="#000" stroke-width="1.4" />
<line x1="381.00" y1="82.70" x2="375.00" y2="82.70" stroke="#000" stroke-width="1.4" />
<line x1="237.00" y1="72.03" x2="239.80" y2="72.03" stroke="#000" stroke-width="1.4" />
<line x1="381.00" y1="72.03" x2="378.20" y2="72.03" stroke="#000" stroke-width="1.4" />
<line x1="237.00" y1="61.36" x2="243.00" y2="61.36" stroke="#000" stroke-width="1.4" />
<line x1="381.00" y1="61.36" x2="375.00" y2="61.36" stroke="#000" stroke-width="1.4" />
<line x1="237.00" y1="50.69" x2="239.80" y2="50.69" stroke="#000" stroke-width="1.4" />
<line x1="381.00" y1="50.69" x2="378.20" y2="50.69" stroke="#000" stroke-width="1.4" />
<line x1="237.00" y1="40.01" x2="243.00" y2="40.01" stroke="#000" stroke-width="1.4" />
<line x1="381.00" y1="40.01" x2="375.00" y2="40.01" stroke="#000" stroke-width="1.4" />
<line x1="237.00" y1="29.34" x2="239.80" y2="29.34" stroke="#000" stroke-width="1.4" />
<line x1="381.00" y1="29.34" x2="378.20" y2="29.34" stroke="#000" stroke-width="1.4" />
<line x1="237.00" y1="18.67" x2="243.00" y2="18.67" stroke="#000" stroke-width="1.4" />
<line x1="381.00" y1="18.67" x2="375.00" y2="18.67" stroke="#000" stroke-width="1.4" />
<line x1="237.00" y1="8.00" x2="239.80" y2="8.00" stroke="#000" stroke-width="1.4" />
<line x1="381.00" y1="8.00" x2="378.20" y2="8.00" stroke="#000" stroke-width="1.4" />
<line x1="237.00" y1="8.00" x2="237.00" y2="83.45" stroke="#000" stroke-width="1.7" />
<line x1="237.00" y1="82.70" x2="381.00" y2="82.70" stroke="#000" stroke-width="1.5" />
<text x="233.50" y="88.40" font-size="15" text-anchor="end" style="font-family:'Liberation Sans',sans-serif" fill="#000" >0</text>
<text x="233.50" y="67.06" font-size="15" text-anchor="end" style="font-family:'Liberation Sans',sans-serif" fill="#000" >0.2</text>
<text x="233.50" y="45.71" font-size="15" text-anchor="end" style="font-family:'Liberation Sans',sans-serif" fill="#000" >0.4</text>
<text x="233.50" y="24.37" font-size="15" text-anchor="end" style="font-family:'Liberation Sans',sans-serif" fill="#000" >0.6</text>
<text x="237.50" y="98.60" font-size="15" text-anchor="middle" style="font-family:'Liberation Sans',sans-serif" fill="#000" >0</text>
<text x="266.30" y="98.60" font-size="15" text-anchor="middle" style="font-family:'Liberation Sans',sans-serif" fill="#000" >5</text>
<text x="295.10" y="98.60" font-size="15" text-anchor="middle" style="font-family:'Liberation Sans',sans-serif" fill="#000" >10</text>
<text x="323.90" y="98.60" font-size="15" text-anchor="middle" style="font-family:'Liberation Sans',sans-serif" fill="#000" >15</text>
<text x="352.70" y="98.60" font-size="15" text-anchor="middle" style="font-family:'Liberation Sans',sans-serif" fill="#000" >20</text>
<text x="309.70" y="114.50" font-size="15.3" text-anchor="middle" style="font-family:'Liberation Sans',sans-serif" fill="#000" >T (K)</text>
<text transform="translate(208.20,45.40) rotate(-90) scale(1,1)" font-size="16" text-anchor="middle" style="font-family:'Liberation Sans',sans-serif" fill="#000" >s</text>
<rect x="67.0" y="176.0" width="143.0" height="75.19999999999999" fill="#fff"/>
<clipPath id="cib"><rect x="66.0" y="175.0" width="144.0" height="76.19999999999999"/></clipPath>
<g clip-path="url(#cib)">
<path d="M66.65,250.20 L66.98,250.20 L67.30,250.20 L67.62,250.20 L67.95,250.20 L68.27,250.18 L68.59,250.14 L68.92,250.05 L69.24,249.89 L69.56,249.62 L69.89,249.23 L70.21,248.71 L70.53,248.04 L70.86,247.23 L71.18,246.28 L71.50,245.21 L71.82,244.03 L72.15,242.76 L72.47,241.42 L72.79,240.02 L73.12,238.57 L73.44,237.10 L73.76,235.62 L74.09,234.14 L74.41,232.66 L74.73,231.20 L75.06,229.76 L75.38,228.35 L75.70,226.97 L76.03,225.62 L76.35,224.31 L76.67,223.05 L76.99,221.82 L77.32,220.63 L77.64,219.48 L77.96,218.37 L78.29,217.30 L78.61,216.26 L78.93,215.27 L79.26,214.31 L79.58,213.39 L79.90,212.50 L80.23,211.64 L80.55,210.81 L80.87,210.02 L81.20,209.25 L81.52,208.51 L81.84,207.80 L82.16,207.11 L82.49,206.45 L82.81,205.81 L83.13,205.19 L83.46,204.59 L83.78,204.02 L84.10,203.46 L84.43,202.93 L84.75,202.41 L85.07,201.90 L85.40,201.42 L85.72,200.95 L86.04,200.49 L86.37,200.05 L86.69,199.63 L87.01,199.21 L87.33,198.81 L87.66,198.42 L87.98,198.05 L88.30,197.68 L88.63,197.33 L88.95,196.98 L89.27,196.65 L89.60,196.32 L89.92,196.00 L90.24,195.70 L90.57,195.40 L90.89,195.11 L91.21,194.82 L91.54,194.55 L91.86,194.28 L92.18,194.02 L92.51,193.76 L93.70,192.88 L94.88,192.07 L96.07,191.33 L97.26,190.65 L98.44,190.03 L99.63,189.45 L100.82,188.91 L102.00,188.41 L103.19,187.95 L104.38,187.52 L105.56,187.11 L106.75,186.73 L107.94,186.37 L109.12,186.03 L110.31,185.72 L111.50,185.42 L112.68,185.13 L113.87,184.87 L115.06,184.61 L116.24,184.37 L117.43,184.14 L118.62,183.92 L119.80,183.71 L120.99,183.52 L122.18,183.33 L123.37,183.15 L124.55,182.97 L125.74,182.81 L126.93,182.65 L128.11,182.49 L129.30,182.35 L130.49,182.21 L131.67,182.07 L132.86,181.94 L134.05,181.81 L135.23,181.69 L136.42,181.58 L137.61,181.46 L138.79,181.35 L139.98,181.25 L141.17,181.15 L142.35,181.05 L143.54,180.95 L144.73,180.86 L145.91,180.77 L147.10,180.69 L148.29,180.60 L149.47,180.52 L150.66,180.44 L151.85,180.37 L153.03,180.29 L154.22,180.22 L155.41,180.15 L156.60,180.08 L157.78,180.01 L158.97,179.95 L160.16,179.89 L161.34,179.83 L162.53,179.77 L163.72,179.71 L164.90,179.65 L166.09,179.60 L167.28,179.54 L168.46,179.49 L169.65,179.44 L170.84,179.39 L172.02,179.34 L173.21,179.29 L174.40,179.24 L175.58,179.20 L176.77,179.15 L177.96,179.11 L179.14,179.07 L180.33,179.02 L181.52,178.98 L182.70,178.94 L183.89,178.90 L185.08,178.86 L186.26,178.83 L187.45,178.79 L188.64,178.75 L189.82,178.72 L191.01,178.68 L192.20,178.65 L193.39,178.62 L194.57,178.58 L195.76,178.55 L196.95,178.52 L198.13,178.49 L199.32,178.46 L200.51,178.43 L201.69,178.40 L202.88,178.37 L204.07,178.34 L205.25,178.31 L206.44,178.29 L207.63,178.26 L208.81,178.23 L210.00,178.21" fill="none" stroke="#ff0000" stroke-width="1.6" stroke-linejoin="round" stroke-dasharray="7.1 4.25" stroke-dashoffset="10.63" />
<path d="M66.65,250.20 L66.98,250.18 L67.30,250.14 L67.62,250.05 L67.95,249.91 L68.27,249.68 L68.59,249.38 L68.92,248.98 L69.24,248.51 L69.56,247.98 L69.89,247.42 L70.21,246.85 L70.53,246.30 L70.86,245.79 L71.18,245.33 L71.50,244.92 L71.82,244.54 L72.15,244.20 L72.47,243.87 L72.79,243.56 L73.12,243.25 L73.44,242.95 L73.76,242.66 L74.09,242.36 L74.41,242.06 L74.73,241.77 L75.06,241.48 L75.38,241.19 L75.70,240.90 L76.03,240.61 L76.35,240.33 L76.67,240.04 L76.99,239.76 L77.32,239.48 L77.64,239.20 L77.96,238.92 L78.29,238.64 L78.61,238.37 L78.93,238.09 L79.26,237.82 L79.58,237.55 L79.90,237.28 L80.23,237.01 L80.55,236.75 L80.87,236.48 L81.20,236.22 L81.52,235.96 L81.84,235.70 L82.16,235.44 L82.49,235.19 L82.81,234.93 L83.13,234.68 L83.46,234.43 L83.78,234.17 L84.10,233.93 L84.43,233.68 L84.75,233.43 L85.07,233.19 L85.40,232.95 L85.72,232.70 L86.04,232.46 L86.37,232.23 L86.69,231.99 L87.01,231.75 L87.33,231.52 L87.66,231.29 L87.98,231.06 L88.30,230.83 L88.63,230.60 L88.95,230.37 L89.27,230.15 L89.60,229.92 L89.92,229.70 L90.24,229.48 L90.57,229.26 L90.89,229.04 L91.21,228.82 L91.54,228.61 L91.86,228.39 L92.18,228.18 L92.51,227.97 L93.70,227.20 L94.88,226.45 L96.07,225.72 L97.26,225.01 L98.44,224.31 L99.63,223.62 L100.82,222.95 L102.00,222.30 L103.19,221.66 L104.38,221.03 L105.56,220.42 L106.75,219.82 L107.94,219.24 L109.12,218.66 L110.31,218.10 L111.50,217.55 L112.68,217.01 L113.87,216.49 L115.06,215.97 L116.24,215.46 L117.43,214.97 L118.62,214.48 L119.80,214.00 L120.99,213.54 L122.18,213.08 L123.37,212.63 L124.55,212.19 L125.74,211.76 L126.93,211.33 L128.11,210.92 L129.30,210.51 L130.49,210.11 L131.67,209.71 L132.86,209.33 L134.05,208.95 L135.23,208.58 L136.42,208.21 L137.61,207.85 L138.79,207.50 L139.98,207.15 L141.17,206.81 L142.35,206.47 L143.54,206.14 L144.73,205.82 L145.91,205.50 L147.10,205.19 L148.29,204.88 L149.47,204.58 L150.66,204.28 L151.85,203.98 L153.03,203.70 L154.22,203.41 L155.41,203.13 L156.60,202.86 L157.78,202.59 L158.97,202.32 L160.16,202.06 L161.34,201.80 L162.53,201.54 L163.72,201.29 L164.90,201.04 L166.09,200.80 L167.28,200.56 L168.46,200.32 L169.65,200.09 L170.84,199.86 L172.02,199.63 L173.21,199.41 L174.40,199.19 L175.58,198.97 L176.77,198.76 L177.96,198.55 L179.14,198.34 L180.33,198.13 L181.52,197.93 L182.70,197.73 L183.89,197.53 L185.08,197.34 L186.26,197.14 L187.45,196.95 L188.64,196.77 L189.82,196.58 L191.01,196.40 L192.20,196.22 L193.39,196.04 L194.57,195.87 L195.76,195.69 L196.95,195.52 L198.13,195.35 L199.32,195.19 L200.51,195.02 L201.69,194.86 L202.88,194.70 L204.07,194.54 L205.25,194.38 L206.44,194.23 L207.63,194.07 L208.81,193.92 L210.00,193.77" fill="none" stroke="#000" stroke-width="1.6" stroke-linejoin="round"  />
</g>
<line x1="82.36" y1="250.20" x2="82.36" y2="247.40" stroke="#000" stroke-width="1.4" />
<line x1="82.36" y1="175.00" x2="82.36" y2="177.80" stroke="#000" stroke-width="1.4" />
<line x1="98.73" y1="250.20" x2="98.73" y2="244.20" stroke="#000" stroke-width="1.4" />
<line x1="98.73" y1="175.00" x2="98.73" y2="181.00" stroke="#000" stroke-width="1.4" />
<line x1="115.09" y1="250.20" x2="115.09" y2="247.40" stroke="#000" stroke-width="1.4" />
<line x1="115.09" y1="175.00" x2="115.09" y2="177.80" stroke="#000" stroke-width="1.4" />
<line x1="131.45" y1="250.20" x2="131.45" y2="244.20" stroke="#000" stroke-width="1.4" />
<line x1="131.45" y1="175.00" x2="131.45" y2="181.00" stroke="#000" stroke-width="1.4" />
<line x1="147.82" y1="250.20" x2="147.82" y2="247.40" stroke="#000" stroke-width="1.4" />
<line x1="147.82" y1="175.00" x2="147.82" y2="177.80" stroke="#000" stroke-width="1.4" />
<line x1="164.18" y1="250.20" x2="164.18" y2="244.20" stroke="#000" stroke-width="1.4" />
<line x1="164.18" y1="175.00" x2="164.18" y2="181.00" stroke="#000" stroke-width="1.4" />
<line x1="180.55" y1="250.20" x2="180.55" y2="247.40" stroke="#000" stroke-width="1.4" />
<line x1="180.55" y1="175.00" x2="180.55" y2="177.80" stroke="#000" stroke-width="1.4" />
<line x1="196.91" y1="250.20" x2="196.91" y2="244.20" stroke="#000" stroke-width="1.4" />
<line x1="196.91" y1="175.00" x2="196.91" y2="181.00" stroke="#000" stroke-width="1.4" />
<line x1="66.00" y1="235.20" x2="68.80" y2="235.20" stroke="#000" stroke-width="1.4" />
<line x1="210.00" y1="235.20" x2="207.20" y2="235.20" stroke="#000" stroke-width="1.4" />
<line x1="66.00" y1="220.20" x2="72.00" y2="220.20" stroke="#000" stroke-width="1.4" />
<line x1="210.00" y1="220.20" x2="204.00" y2="220.20" stroke="#000" stroke-width="1.4" />
<line x1="66.00" y1="205.20" x2="68.80" y2="205.20" stroke="#000" stroke-width="1.4" />
<line x1="210.00" y1="205.20" x2="207.20" y2="205.20" stroke="#000" stroke-width="1.4" />
<line x1="66.00" y1="190.20" x2="72.00" y2="190.20" stroke="#000" stroke-width="1.4" />
<line x1="210.00" y1="190.20" x2="204.00" y2="190.20" stroke="#000" stroke-width="1.4" />
<line x1="66.00" y1="175.20" x2="68.80" y2="175.20" stroke="#000" stroke-width="1.4" />
<line x1="210.00" y1="175.20" x2="207.20" y2="175.20" stroke="#000" stroke-width="1.4" />
<line x1="210.00" y1="175.00" x2="210.00" y2="250.95" stroke="#000" stroke-width="1.7" />
<line x1="66.00" y1="250.20" x2="210.00" y2="250.20" stroke="#000" stroke-width="1.5" />
<text x="214.00" y="254.70" font-size="15" text-anchor="start" style="font-family:'Liberation Sans',sans-serif" fill="#000" >0</text>
<text x="214.00" y="224.70" font-size="15" text-anchor="start" style="font-family:'Liberation Sans',sans-serif" fill="#000" >0.1</text>
<text x="214.00" y="194.70" font-size="15" text-anchor="start" style="font-family:'Liberation Sans',sans-serif" fill="#000" >0.2</text>
<text x="99.43" y="266.40" font-size="14.5" text-anchor="middle" style="font-family:'Liberation Sans',sans-serif" fill="#000" >50</text>
<text x="132.15" y="266.40" font-size="14.5" text-anchor="middle" style="font-family:'Liberation Sans',sans-serif" fill="#000" >100</text>
<text x="164.88" y="266.40" font-size="14.5" text-anchor="middle" style="font-family:'Liberation Sans',sans-serif" fill="#000" >150</text>
<text x="197.61" y="266.40" font-size="14.5" text-anchor="middle" style="font-family:'Liberation Sans',sans-serif" fill="#000" >200</text>
<text x="138.20" y="281.50" font-size="15.3" text-anchor="middle" style="font-family:'Liberation Sans',sans-serif" fill="#000" >T (K)</text>
<text transform="translate(254.60,224.20) rotate(-90) scale(1,1)" font-size="16" text-anchor="start" style="font-family:'Liberation Sans',sans-serif" fill="#000" >S</text>
<text transform="translate(245.20,213.90) rotate(-90) scale(1,1)" font-size="10.5" text-anchor="start" style="font-family:'Liberation Sans',sans-serif" fill="#000" >z</text>
<text transform="translate(242.90,207.40) rotate(-90) scale(0.9,1)" font-size="10.2" text-anchor="start" style="font-family:'Liberation Sans',sans-serif" fill="#000" >2</text>
<path d="M242.90,223.20 L249.80,229.30 L256.70,223.60" fill="none" stroke="#000" stroke-width="1.0" stroke-linejoin="round"  />
<path d="M242.90,201.30 L250.00,196.60 L256.70,201.10" fill="none" stroke="#000" stroke-width="1.0" stroke-linejoin="round"  />
</svg>
</body></html>
